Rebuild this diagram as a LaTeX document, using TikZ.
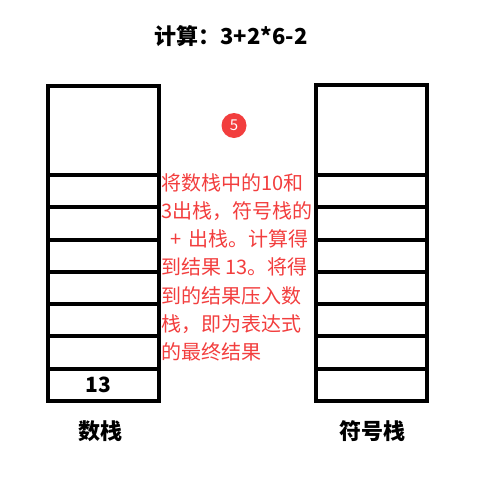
\documentclass[tikz,border=0pt]{standalone}
\usepackage{fontspec}
\setmainfont{Noto Sans CJK SC}
\definecolor{notered}{RGB}{242,62,62}
\begin{document}
\begin{tikzpicture}[x=1pt,y=-1pt]
% Set the canvas to the size of the picture
\useasboundingbox (0,0) rectangle (486,485);

% Title
\node[font=\fontsize{22}{26}\selectfont\bfseries] (title) at (231, 36) {计算：3+2*6-2};

% Number stack: outer box and dividers
\draw[line width=4pt] (48, 86) rectangle (158.7, 401);
\draw[line width=4pt] (48, 368.7) -- (158.7, 368.7);
\draw[line width=4pt] (48, 336.4) -- (158.7, 336.4);
\draw[line width=4pt] (48, 304.1) -- (158.7, 304.1);
\draw[line width=4pt] (48, 271.8) -- (158.7, 271.8);
\draw[line width=4pt] (48, 239.5) -- (158.7, 239.5);
\draw[line width=4pt] (48, 207.2) -- (158.7, 207.2);
\draw[line width=4pt] (48, 174.9) -- (158.7, 174.9);
\node[font=\fontsize{21}{24}\selectfont\bfseries] (num13) at (98.3, 385.3) {13};

% Operator stack: outer box and dividers
\draw[line width=4pt] (316, 85) rectangle (426.7, 400.5);
\draw[line width=4pt] (316, 368.7) -- (426.7, 368.7);
\draw[line width=4pt] (316, 336.4) -- (426.7, 336.4);
\draw[line width=4pt] (316, 304.1) -- (426.7, 304.1);
\draw[line width=4pt] (316, 271.8) -- (426.7, 271.8);
\draw[line width=4pt] (316, 239.5) -- (426.7, 239.5);
\draw[line width=4pt] (316, 207.2) -- (426.7, 207.2);
\draw[line width=4pt] (316, 174.9) -- (426.7, 174.9);

% Stack names
\node[font=\fontsize{22}{26}\selectfont\bfseries] (numlabel) at (100.5, 431) {数栈};
\node[font=\fontsize{22}{26}\selectfont\bfseries] (oplabel) at (372.5, 431) {符号栈};

% Step marker and explanation
\node[circle, fill=notered, minimum size=25pt, inner sep=0pt, text=white,
      font=\fontsize{15}{17}\selectfont] (step) at (234, 125.5) {5};
\node[anchor=north west, align=left, inner sep=0pt, text=notered,
      font=\fontsize{20}{28.3}\selectfont] (note) at (161, 173) {将数栈中的10和\\3出栈，符号栈的\\\hspace*{0.45em}+\hspace{0.35em}出栈。计算得\\到结果 13。将得\\到的结果压入数\\栈，即为表达式\\的最终结果};
\end{tikzpicture}
\end{document}
